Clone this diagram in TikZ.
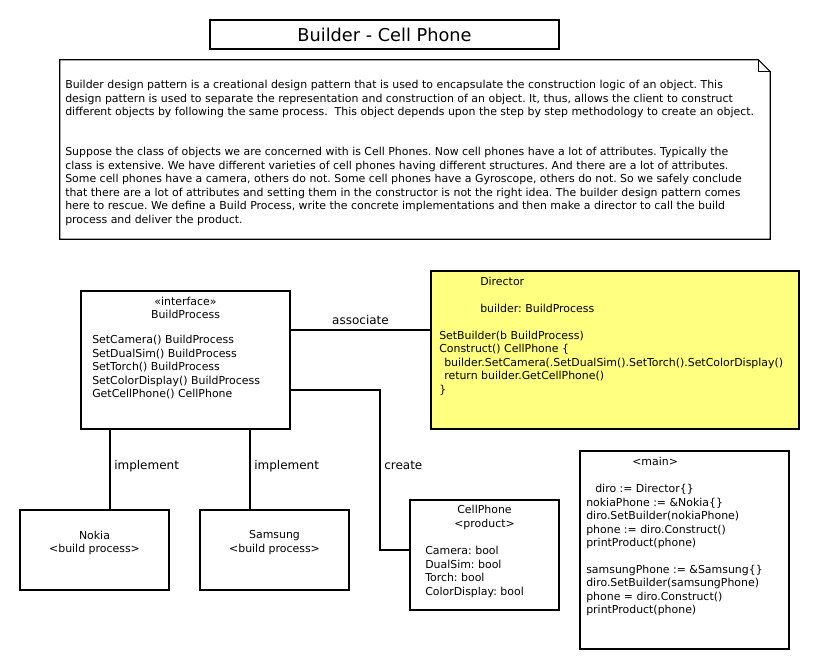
\documentclass[tikz,border=0pt]{standalone}
\usepackage{fontspec}
\setmainfont{DejaVu Sans}
\usetikzlibrary{fit}

\tikzset{
  box/.style={draw, line width=0.8pt, inner sep=0pt},
  conn/.style={line width=0.8pt},
  txt/.style={anchor=north west, align=left, inner sep=0pt, font=\fontsize{8.2}{10.1}\selectfont},
  ctxt/.style={anchor=north, align=center, inner sep=0pt, font=\fontsize{8.2}{10.1}\selectfont},
  lbl/.style={inner sep=0pt, font=\fontsize{9}{11}\selectfont}
}

\begin{document}
\frenchspacing
\begin{tikzpicture}[x=0.75pt,y=-0.75pt]

    \useasboundingbox (0,0) rectangle (820,670);

    % title
    \node (title) at (384.5,34.5) [box, minimum width=261.75pt, minimum height=21.75pt,
        font=\fontsize{13.3}{16}\selectfont] {Builder - Cell Phone};

    % note with folded corner
    \node (note) [fit={(60,60) (770,239)}, inner sep=0pt] {};
    \draw [conn] (note.south west) -- (note.north west) -- ([xshift=-9pt]note.north east)
        -- ([yshift=-9pt]note.north east) -- (note.south east) -- cycle;
    \draw [conn] ([xshift=-9pt]note.north east) -- ([xshift=-9pt,yshift=-9pt]note.north east)
        -- ([yshift=-9pt]note.north east);
    \node (intro) at (65,80.2) [txt] {Builder design pattern is a creational design pattern that is used to encapsulate the construction logic of an object. This\\
        design pattern is used to separate the representation and construction of an object. It, thus, allows the client to construct\\
        different objects by following the same process.\ \ This object depends upon the step by step methodology to create an object.};
    \node (story) at (65,147.2) [txt] {Suppose the class of objects we are concerned with is Cell Phones. Now cell phones have a lot of attributes. Typically the\\
        class is extensive. We have different varieties of cell phones having different structures. And there are a lot of attributes.\\
        Some cell phones have a camera, others do not. Some cell phones have a Gyroscope, others do not. So we safely conclude\\
        that there are a lot of attributes and setting them in the constructor is not the right idea. The builder design pattern comes\\
        here to rescue. We define a Build Process, write the concrete implementations and then make a director to call the build\\
        process and deliver the product.};

    % interface
    \node (bp) [box, fit={(81,291) (290,429)}] {};
    \node (bphead) at (185.5,296.7) [ctxt] {«interface»\\BuildProcess};
    \node (bpbody) at (92,335.2) [txt] {SetCamera() BuildProcess\\
        SetDualSim() BuildProcess\\
        SetTorch() BuildProcess\\
        SetColorDisplay() BuildProcess\\
        GetCellPhone() CellPhone};

    % director
    \node (dir) [box, fill={rgb,255:red,255;green,255;blue,128}, fit={(431,271) (799,429)}] {};
    \node (dirtext) at (439,276.7) [txt] {\hspace*{30.75pt}Director\\[10.1pt]
        \hspace*{30.75pt}builder: BuildProcess\\[10.1pt]
        SetBuilder(b BuildProcess)\\
        Construct() CellPhone \{\\
        \hspace*{3.75pt}builder.SetCamera(.SetDualSim().SetTorch().SetColorDisplay()\\
        \hspace*{3.75pt}return builder.GetCellPhone()\\
        \}};

    % concrete builders
    \node (nokia) [box, fit={(20,510) (169,590)}] {};
    \node (nokiatext) at (94.5,530.5) [ctxt] {Nokia\\<build process>};
    \node (samsung) [box, fit={(200,510) (349,590)}] {};
    \node (samsungtext) at (274.5,530.5) [ctxt] {Samsung\\<build process>};

    % product
    \node (cell) [box, fit={(410,500) (559,610)}] {};
    \node (cellhead) at (484.5,505.2) [ctxt] {CellPhone\\<product>};
    \node (cellbody) at (425,546.2) [txt] {Camera: bool\\
        DualSim: bool\\
        Torch: bool\\
        ColorDisplay: bool};

    % main
    \node (main) [box, fit={(580,451) (789,649)}] {};
    \node (maintext) at (586,457.2) [txt] {\hspace*{34.5pt}<main>\\[10.1pt]
        \hspace*{6.75pt}diro := Director\{\}\\
        nokiaPhone := \&Nokia\{\}\\
        diro.SetBuilder(nokiaPhone)\\
        phone := diro.Construct()\\
        printProduct(phone)\\[10.1pt]
        samsungPhone := \&Samsung\{\}\\
        diro.SetBuilder(samsungPhone)\\
        phone = diro.Construct()\\
        printProduct(phone)};

    % connectors
    \draw [conn] (bp.east |- 0,330) -- (dir.west |- 0,330)
        node (assoc) [midway, above=3.5pt, lbl] {associate};
    \draw [conn] (bp.south -| 110,0) -- (nokia.north -| 110,0);
    \draw [conn] (bp.south -| 250,0) -- (samsung.north -| 250,0);
    \draw [conn] (bp.east |- 0,390) -- (380,390) -- (380,550) -- (cell.west |- 0,550);
    \node (impl1) at (114,469.5) [lbl, anchor=base west] {implement};
    \node (impl2) at (254,469.5) [lbl, anchor=base west] {implement};
    \node (create) at (384,469.5) [lbl, anchor=base west] {create};

\end{tikzpicture}
\end{document}
